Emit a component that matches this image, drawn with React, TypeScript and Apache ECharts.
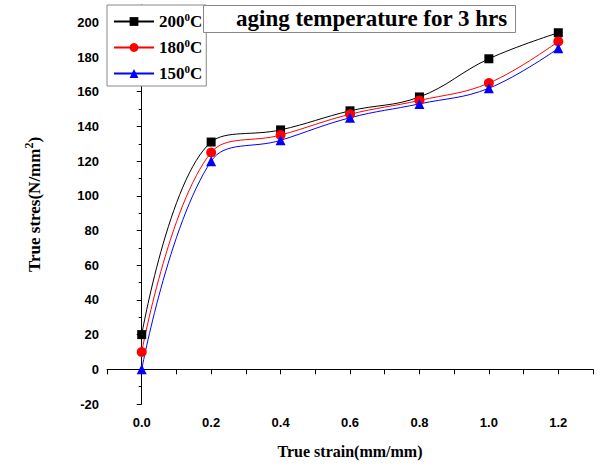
import React, { useEffect, useRef } from "react";
import * as echarts from "echarts";

const strain = [0.0, 0.2, 0.4, 0.6, 0.8, 1.0, 1.2];
const stress200 = [20, 131, 138, 149, 157, 179, 194];
const stress180 = [10, 125, 135, 147, 155, 165, 189];
const stress150 = [0, 120, 132, 145, 153, 162, 185];
const seriesNames = ["200{sup|0}C", "180{sup|0}C", "150{sup|0}C"];
const titleText = "aging temperature for 3 hrs";

const serif = "Liberation Serif";
const sans = "Liberation Sans";

export default function App() {
  const ref = useRef<HTMLDivElement>(null);
  useEffect(() => {
    if (!ref.current) return;
    const chart = echarts.init(ref.current, null, { renderer: "svg" });
    const mk = (vals: number[]) => strain.map((x, i) => [x, vals[i]]);
    const colors = ["#000000", "#ff0000", "#0000ff"];
    const symbols = ["rect", "circle", "triangle"];
    const datas = [stress200, stress180, stress150];
    chart.setOption({
      animation: false,
      backgroundColor: "#ffffff",
      title: {
        text: titleText,
        left: 203,
        top: 5,
        padding: [2, 8, 3, 33],
        borderColor: "#888",
        borderWidth: 1,
        backgroundColor: "#fff",
        textStyle: { fontFamily: serif, fontWeight: "bold", fontSize: 23, color: "#000" },
      },
      legend: {
        left: 107,
        top: 5,
        orient: "vertical",
        padding: [6, 4, 4, 6],
        itemGap: 7,
        itemWidth: 40,
        itemHeight: 11,
        borderColor: "#888",
        borderWidth: 1,
        backgroundColor: "#fff",
        data: seriesNames,
        formatter: (n: string) => n,
        textStyle: {
          fontFamily: serif,
          fontWeight: "bold",
          fontSize: 17,
          color: "#000",
          rich: {
            sup: { fontFamily: serif, fontWeight: "bold", fontSize: 11, verticalAlign: "top", padding: [0, 0, 10, 0] },
          },
        },
      },
      grid: { left: 107, right: 7, top: 5, bottom: 62, containLabel: false },
      xAxis: {
        type: "value",
        min: -0.1,
        max: 1.3,
        interval: 0.1,
        name: "True strain(mm/mm)",
        nameLocation: "middle",
        nameGap: 39,
        nameTextStyle: { fontFamily: serif, fontWeight: "bold", fontSize: 16, color: "#000" },
        axisLine: { show: true, lineStyle: { color: "#000", width: 1 } },
        axisTick: { show: true, inside: false, length: 5, lineStyle: { color: "#000" } },
        splitLine: { show: false },
        axisLabel: {
          fontFamily: sans,
          fontWeight: "bold",
          fontSize: 13,
          color: "#000",
          margin: 12,
          showMinLabel: true,
          showMaxLabel: true,
          formatter: (v: number) => {
            const k = Math.round(v * 10);
            if (k < 0 || k > 12 || k % 2 !== 0) return "";
            return (k / 10).toFixed(1);
          },
        },
      },
      yAxis: {
        type: "value",
        min: -20,
        max: 210,
        interval: 20,
        name: "True stres(N/mm{sup|2})",
        nameLocation: "middle",
        nameGap: 62,
        nameTextStyle: {
          fontFamily: serif,
          fontWeight: "bold",
          fontSize: 17,
          color: "#000",
          rich: {
            sup: { fontFamily: serif, fontWeight: "bold", fontSize: 12, verticalAlign: "top", padding: [0, 0, 10, 0] },
          },
        },
        axisLine: { show: true, lineStyle: { color: "#000", width: 1 } },
        axisTick: { show: true, inside: false, length: 5, lineStyle: { color: "#000" } },
        minorTick: { show: true, splitNumber: 2, length: 3, lineStyle: { color: "#000" } },
        splitLine: { show: false },
        axisLabel: {
          fontFamily: sans,
          fontWeight: "bold",
          fontSize: 13,
          color: "#000",
          margin: 8,
          showMaxLabel: false,
          formatter: (v: number) => (v > 200 ? "" : String(v)),
        },
      },
      series: datas.map((d, i) => ({
        name: seriesNames[i],
        type: "line",
        data: mk(d),
        smooth: 0.4,
        symbol: symbols[i],
        symbolSize: i === 0 ? 9 : 10,
        lineStyle: { color: colors[i], width: 1 },
        itemStyle: { color: colors[i] },
      })),
    });
    return () => chart.dispose();
  }, []);
  return <div ref={ref} style={{ width: 600, height: 466, position: "absolute", left: 0, top: 0 }} />;
}
